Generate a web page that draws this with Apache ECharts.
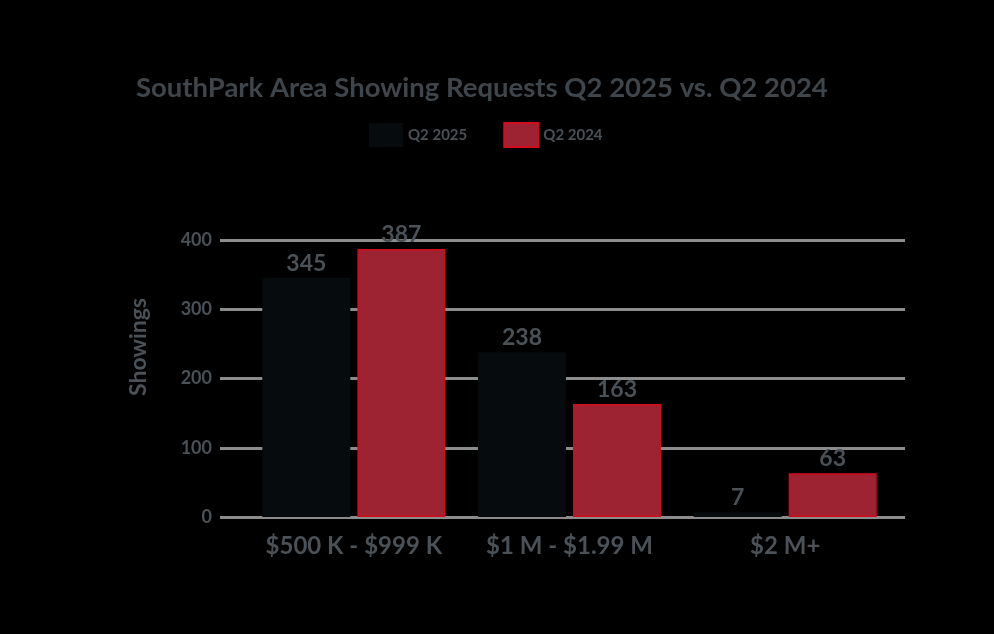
<!DOCTYPE html>
<html><head><meta charset="utf-8">
<style>html,body{margin:0;padding:0;background:#000;}#c{width:994px;height:634px;}</style>
<script src="https://cdn.jsdelivr.net/npm/echarts@6/dist/echarts.min.js"></script>
</head><body><div id="c"></div>
<script>
var categories = ["$500 K - $999 K", "$1 M - $1.99 M", "$2 M+"];
var q2_2025 = [345, 238, 7];
var q2_2024 = [387, 163, 63];
var yTicks = [0, 100, 200, 300, 400];

var txt = '#4a5157';
var chart = echarts.init(document.getElementById('c'));
chart.setOption({
  backgroundColor: '#000',
  animation: false,
  title: {
    text: 'SouthPark Area Showing Requests Q2 2025 vs. Q2 2024',
    left: 131, top: 69,
    textStyle: {color: '#3f464b', fontFamily: 'Lato', fontWeight: 'bold', fontSize: 27.5}
  },
  legend: {
    top: 117, left: 364,
    icon: 'rect',
    itemWidth: 34, itemHeight: 24, itemGap: 36,
    textStyle: {color: txt, fontFamily: 'Lato', fontWeight: 'bold', fontSize: 15},
    data: ['Q2 2025', 'Q2 2024']
  },
  grid: [
    {left: 246, right: 101, top: 240, bottom: 117},
    {left: 220, right: 89, top: 240, bottom: 117},
    {left: 220, right: 89, top: 240, bottom: 180}
  ],
  xAxis: [
    {type: 'category', gridIndex: 0, data: categories,
     axisLine: {show: false}, axisTick: {show: false},
     axisLabel: {interval: 0, hideOverlap: false, color: txt, fontFamily: 'Lato', fontWeight: 'bold', fontSize: 24, margin: 17}},
    {type: 'value', gridIndex: 1, show: false, min: 0, max: 1},
    {type: 'value', gridIndex: 2, show: false, min: 0, max: 1}
  ],
  yAxis: [
    {type: 'value', gridIndex: 0, min: 0, max: 400, interval: 100,
     axisLabel: {show: false}, splitLine: {show: false}, axisLine: {show: false}},
    {type: 'value', gridIndex: 1, min: yTicks[0], max: yTicks[yTicks.length - 1], interval: 100,
     axisLine: {show: false}, axisTick: {show: false},
     axisLabel: {color: txt, fontFamily: 'Lato', fontWeight: 'bold', fontSize: 18, margin: 8},
     splitLine: {show: true, lineStyle: {color: '#8c8c8c', width: 3}}},
    {type: 'value', gridIndex: 2, min: 0, max: 1,
     name: 'Showings', nameLocation: 'middle', nameGap: 70, nameRotate: 90,
     nameTextStyle: {color: txt, fontFamily: 'Lato', fontWeight: 'bold', fontSize: 23},
     axisLine: {show: false}, axisTick: {show: false}, axisLabel: {show: false}, splitLine: {show: false}}
  ],
  series: [
    {name: 'Q2 2025', type: 'bar', xAxisIndex: 0, yAxisIndex: 0, data: q2_2025,
     barWidth: 88, barGap: '8%',
     itemStyle: {color: '#060b0d'},
     label: {show: true, position: 'top', distance: 3, color: txt, fontFamily: 'Lato', fontWeight: 'bold', fontSize: 23}},
    {name: 'Q2 2024', type: 'bar', xAxisIndex: 0, yAxisIndex: 0, data: q2_2024,
     barWidth: 88,
     itemStyle: {color: '#9d2232', borderColor: '#d10d1c', borderWidth: 1.5},
     label: {show: true, position: 'top', distance: 3, color: txt, fontFamily: 'Lato', fontWeight: 'bold', fontSize: 23}}
  ]
});
</script></body></html>
